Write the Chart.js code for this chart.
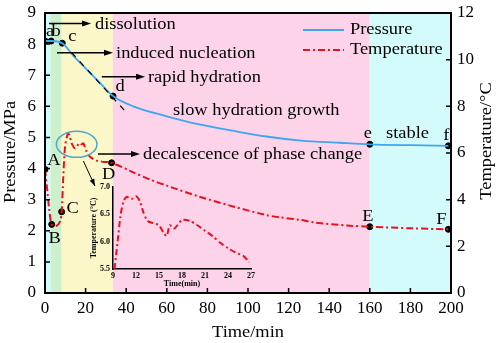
<!DOCTYPE html>
<html lang="en">
<head>
  <meta charset="UTF-8" />
  <title>Pressure and temperature during hydrate formation</title>
  <script src="https://cdn.jsdelivr.net/npm/chart.js"></script>
  <style>
    body { margin: 0; background: #fff; }
    #wrap { position: relative; width: 498px; height: 343px; }
    #mainChart { position: absolute; left: 0; top: 0; }
    #insetChart { position: absolute; left: 78px; top: 178px; }
  </style>
</head>
<body>
  <div id="wrap">
    <canvas id="mainChart" width="498" height="343"></canvas>
    <canvas id="insetChart" width="180" height="114"></canvas>
  </div>

  <script>
    // pressure curve (MPa) vs time (min)
    const pressureTime = [0, 3, 8.5, 14, 20.5, 27, 33.5, 43.5, 60, 76, 93, 109, 126, 145, 160, 180, 198.7];
    const pressure = [8.1, 8.1, 8.03, 7.62, 7.19, 6.76, 6.33, 6.0, 5.68, 5.42, 5.21, 5.03, 4.9, 4.83, 4.78, 4.75, 4.73];

    // temperature curve (°C) vs time (min)
    const tempTime = [0, 1, 2, 3.3, 5.5, 7.4, 8.2, 9, 9.9, 11.2, 12, 13.1, 14.8, 16.9, 18.1, 18.9, 20.5, 22.2, 25.4, 27.9,
                      32.8, 43.5, 52, 60, 76, 93, 109, 116, 126, 132, 149, 160, 181, 198.7];
    const temperature = [5.3, 4.5, 3.65, 2.94, 2.87, 3.06, 3.48, 4.98, 6.27, 6.82, 6.78, 6.42, 6.2, 6.42, 6.37, 6.41, 6.06, 5.84, 5.67, 5.63,
                         5.58, 5.17, 4.85, 4.6, 4.13, 3.7, 3.34, 3.24, 3.13, 3.03, 2.89, 2.84, 2.77, 2.73];

    // inset: temperature 9-27 min
    const insetTime = [9.2, 9.6, 10.0, 10.4, 10.8, 11.4, 12.0, 12.5, 13.0, 13.5, 14.2, 15.0, 15.6, 16.0, 16.4, 17.0, 18.0, 19.0,
                       20.0, 21.0, 22.0, 23.0, 24.0, 25.0, 26.0, 26.8];
    const insetTemp = [5.5, 6.0, 6.5, 6.75, 6.82, 6.78, 6.83, 6.74, 6.52, 6.38, 6.34, 6.3, 6.16, 6.1, 6.3, 6.24, 6.4, 6.38,
                       6.3, 6.2, 6.1, 5.98, 5.88, 5.8, 5.74, 5.62];

    // marked points
    const pressureKeys = ['a', 'b', 'c', 'd', 'e', 'f'];
    const pressureKeyTime = [0, 3, 8.5, 33.5, 160, 198.7];
    const pressureKeyValue = [8.1, 8.1, 8.03, 6.33, 4.78, 4.73];
    const tempKeys = ['A', 'B', 'C', 'D', 'E', 'F'];
    const tempKeyTime = [0, 3.3, 8.2, 32.8, 160, 198.7];
    const tempKeyValue = [5.3, 2.94, 3.48, 5.58, 2.84, 2.73];

    // stage boundaries (min)
    const phaseBounds = [0, 2.7, 8.2, 33.4, 160, 200];

    const phaseColors = ['#d3fbfb', '#cdf0cc', '#fbf7c8', '#fdd3ea', '#d3fbfb'];
    const SERIF = '"Liberation Serif", "Times New Roman", serif';
    const SX = 1.15; // the original text is a bit wide

    const pts = (xs, ys) => xs.map((x, i) => ({ x: x, y: ys[i] }));

    function wideText(ctx, str, x, y, size, align) {
      ctx.save();
      ctx.font = size + 'px ' + SERIF;
      ctx.textBaseline = 'middle';
      ctx.translate(x, y);
      ctx.scale(SX, 1);
      const w = ctx.measureText(str).width;
      let dx = 0;
      if (align === 'center') dx = -w / 2;
      if (align === 'right') dx = -w;
      ctx.fillStyle = '#000';
      ctx.fillText(str, dx, 0);
      ctx.restore();
    }

    function arrow(ctx, x0, y0, x1, y1) {
      const a = Math.atan2(y1 - y0, x1 - x0);
      ctx.save();
      ctx.strokeStyle = '#000';
      ctx.fillStyle = '#000';
      ctx.lineWidth = 1.5;
      ctx.beginPath();
      ctx.moveTo(x0, y0);
      ctx.lineTo(x1 - 6 * Math.cos(a), y1 - 6 * Math.sin(a));
      ctx.stroke();
      ctx.beginPath();
      ctx.moveTo(x1, y1);
      ctx.lineTo(x1 - 9 * Math.cos(a) + 3 * Math.sin(a), y1 - 9 * Math.sin(a) - 3 * Math.cos(a));
      ctx.lineTo(x1 - 9 * Math.cos(a) - 3 * Math.sin(a), y1 - 9 * Math.sin(a) + 3 * Math.cos(a));
      ctx.closePath();
      ctx.fill();
      ctx.restore();
    }

    const decor = {
      id: 'decor',
      beforeDatasetsDraw(chart) {
        const { ctx, chartArea: ca, scales } = chart;
        ctx.save();
        for (let i = 0; i < phaseBounds.length - 1; i++) {
          const x0 = scales.x.getPixelForValue(phaseBounds[i]);
          const x1 = scales.x.getPixelForValue(phaseBounds[i + 1]);
          ctx.fillStyle = phaseColors[i];
          ctx.fillRect(x0, ca.top, x1 - x0, ca.bottom - ca.top);
        }
        ctx.restore();
      },
      afterDatasetsDraw(chart) {
        const { ctx, chartArea: ca, scales } = chart;
        const X = v => scales.x.getPixelForValue(v);
        const Y = v => scales.y.getPixelForValue(v);
        const Y1 = v => scales.y1.getPixelForValue(v);

        ctx.save();
        // tangent at the rapid hydration stage
        ctx.strokeStyle = '#000';
        ctx.lineWidth = 1.2;
        ctx.setLineDash([6, 6]);
        ctx.beginPath();
        ctx.moveTo(X(13.1), Y(7.73));
        ctx.lineTo(X(39.4), Y(5.85));
        ctx.stroke();
        ctx.setLineDash([]);

        // frame and inward ticks
        ctx.lineWidth = 2;
        ctx.strokeRect(ca.left, ca.top, ca.right - ca.left, ca.bottom - ca.top);
        ctx.lineWidth = 1.5;
        ctx.beginPath();
        scales.x.ticks.forEach(t => { const x = X(t.value); ctx.moveTo(x, ca.bottom); ctx.lineTo(x, ca.bottom - 5); });
        scales.y.ticks.forEach(t => { const y = Y(t.value); ctx.moveTo(ca.left, y); ctx.lineTo(ca.left + 5, y); });
        scales.y1.ticks.forEach(t => { const y = Y1(t.value); ctx.moveTo(ca.right, y); ctx.lineTo(ca.right - 5, y); });
        ctx.stroke();

        // stage annotations
        arrow(ctx, X(2), Y(8.66), X(22.7), Y(8.66));
        wideText(ctx, 'dissolution', X(24.6), Y(8.62), 16, 'left');
        arrow(ctx, X(5.9), Y(7.72), X(33.5), Y(7.72));
        wideText(ctx, 'induced nucleation', X(35), Y(7.7), 16, 'left');
        arrow(ctx, X(28), Y(6.95), X(49.3), Y(6.95));
        wideText(ctx, 'rapid hydration', X(50.7), Y(6.93), 16, 'left');
        wideText(ctx, 'slow hydration growth', X(63), Y(5.85), 16, 'left');
        arrow(ctx, X(26.1), Y(4.47), X(46.8), Y(4.47));
        wideText(ctx, 'decalescence of phase change', X(48.3), Y(4.45), 16, 'left');
        wideText(ctx, 'stable', X(168), Y(5.11), 16, 'left');

        // ellipse round the temperature peak and arrow to the inset
        ctx.strokeStyle = '#4ea6c8';
        ctx.lineWidth = 1.5;
        ctx.beginPath();
        ctx.ellipse(X(15.6), Y(4.78), X(10) - X(0), Y(0) - Y(0.42), 0, 0, Math.PI * 2);
        ctx.stroke();
        ctx.strokeStyle = '#000';
        ctx.lineWidth = 1;
        ctx.beginPath();
        ctx.moveTo(X(18.9), Y(4.24));
        ctx.lineTo(X(24.6), Y(3.44));
        ctx.stroke();
        const a = Math.atan2(Y(3.44) - Y(4.24), X(24.6) - X(18.9));
        const ex = X(24.6), ey = Y(3.44);
        ctx.fillStyle = '#000';
        ctx.beginPath();
        ctx.moveTo(ex, ey);
        ctx.lineTo(ex - 7 * Math.cos(a) + 2.5 * Math.sin(a), ey - 7 * Math.sin(a) - 2.5 * Math.cos(a));
        ctx.lineTo(ex - 7 * Math.cos(a) - 2.5 * Math.sin(a), ey - 7 * Math.sin(a) + 2.5 * Math.cos(a));
        ctx.closePath();
        ctx.fill();

        // point letters
        const pOff = [[5, -9], [5, -9], [10, -6], [7, -9], [-2, -10], [-2, -10]];
        pressureKeys.forEach((k, i) => {
          wideText(ctx, k, X(pressureKeyTime[i]) + pOff[i][0], Y(pressureKeyValue[i]) + pOff[i][1], 16, 'center');
        });
        const tOff = [[9, -9], [3, 14], [11, -3], [-3, 12], [-2, -10], [-7, -10]];
        tempKeys.forEach((k, i) => {
          wideText(ctx, k, X(tempKeyTime[i]) + tOff[i][0], Y1(tempKeyValue[i]) + tOff[i][1], 16, 'center');
        });

        // legend
        ctx.lineWidth = 1.8;
        ctx.strokeStyle = '#3ea6ee';
        ctx.beginPath();
        ctx.moveTo(303, 30); ctx.lineTo(344, 30);
        ctx.stroke();
        ctx.strokeStyle = '#e8101c';
        ctx.setLineDash([7, 3, 2, 3]);
        ctx.beginPath();
        ctx.moveTo(303, 50); ctx.lineTo(344, 50);
        ctx.stroke();
        ctx.setLineDash([]);
        wideText(ctx, 'Pressure', 350, 30, 16, 'left');
        wideText(ctx, 'Temperature', 350, 50, 16, 'left');

        // axis titles
        ctx.save();
        ctx.translate(11, 152);
        ctx.rotate(-Math.PI / 2);
        wideText(ctx, 'Pressure/MPa', 0, 0, 16, 'center');
        ctx.restore();
        ctx.save();
        ctx.translate(487, 141);
        ctx.rotate(-Math.PI / 2);
        wideText(ctx, 'Temperature/\u00B0C', 0, 0, 16, 'center');
        ctx.restore();
        wideText(ctx, 'Time/min', (ca.left + ca.right) / 2, 333, 16, 'center');
        ctx.restore();
      }
    };

    const tickFont = { family: SERIF, size: 17 };
    const fitV = w => s => { s.width = w; s.paddingTop = 0; s.paddingBottom = 0; };
    const fitH = h => s => { s.height = h; s.paddingLeft = 0; s.paddingRight = 0; };

    new Chart(document.getElementById('mainChart'), {
      type: 'scatter',
      data: {
        datasets: [
          {
            label: 'Pressure',
            data: pts(pressureTime, pressure),
            yAxisID: 'y',
            showLine: true,
            borderColor: '#3ea6ee',
            borderWidth: 1.8,
            pointRadius: 0,
            cubicInterpolationMode: 'monotone'
          },
          {
            label: 'Temperature',
            data: pts(tempTime, temperature),
            yAxisID: 'y1',
            showLine: true,
            borderColor: '#e8101c',
            borderWidth: 2,
            borderDash: [7, 3, 2, 3],
            pointRadius: 0,
            tension: 0.3
          },
          {
            label: 'pressure points',
            data: pts(pressureKeyTime, pressureKeyValue),
            yAxisID: 'y',
            backgroundColor: '#000',
            borderColor: '#000',
            pointRadius: 3
          },
          {
            label: 'temperature points',
            data: pts(tempKeyTime, tempKeyValue),
            yAxisID: 'y1',
            backgroundColor: '#000',
            borderColor: '#000',
            pointRadius: 3
          }
        ]
      },
      options: {
        responsive: false,
        animation: false,
        devicePixelRatio: 1,
        layout: { padding: { top: 13 } },
        plugins: { legend: { display: false }, tooltip: { enabled: false } },
        scales: {
          x: {
            type: 'linear', min: 0, max: 200,
            grid: { display: false, drawTicks: false },
            border: { display: false },
            ticks: { stepSize: 20, font: tickFont, color: '#000', padding: 5 },
            afterFit: fitH(50)
          },
          y: {
            position: 'left', min: 0, max: 9,
            grid: { display: false, drawTicks: false },
            border: { display: false },
            ticks: { stepSize: 1, font: tickFont, color: '#000', padding: 9 },
            afterFit: fitV(45)
          },
          y1: {
            position: 'right', min: 0, max: 12,
            grid: { display: false, drawTicks: false },
            border: { display: false },
            ticks: { stepSize: 2, font: tickFont, color: '#000', padding: 6 },
            afterFit: fitV(47)
          }
        }
      },
      plugins: [decor]
    });

    const insetTitles = {
      id: 'insetTitles',
      afterDraw(chart) {
        const { ctx, chartArea: ca } = chart;
        ctx.save();
        ctx.fillStyle = '#000';
        ctx.font = 'bold 8px ' + SERIF;
        ctx.textAlign = 'center';
        ctx.textBaseline = 'middle';
        ctx.fillText('Time(min)', (ca.left + ca.right) / 2, 106);
        ctx.translate(16, (ca.top + ca.bottom) / 2);
        ctx.rotate(-Math.PI / 2);
        ctx.fillText('Temperature (\u00B0C)', 0, 0);
        ctx.restore();
      }
    };

    const insetFont = { family: SERIF, size: 8, weight: 'bold' };

    new Chart(document.getElementById('insetChart'), {
      type: 'scatter',
      data: {
        datasets: [{
          label: 'Temperature',
          data: pts(insetTime, insetTemp),
          showLine: true,
          borderColor: '#e8101c',
          borderWidth: 2,
          borderDash: [6, 3, 2, 3],
          pointRadius: 0,
          tension: 0.2
        }]
      },
      options: {
        responsive: false,
        animation: false,
        devicePixelRatio: 1,
        layout: { padding: { top: 9, right: 7 } },
        plugins: { legend: { display: false }, tooltip: { enabled: false } },
        scales: {
          x: {
            type: 'linear', min: 9, max: 27,
            grid: { display: false, drawTicks: false },
            border: { display: true, color: '#000', width: 1.5 },
            ticks: { stepSize: 3, font: insetFont, color: '#000', padding: 2 },
            afterFit: fitH(23)
          },
          y: {
            min: 5.5, max: 7.0,
            grid: { display: false, drawTicks: false },
            border: { display: true, color: '#000', width: 1.5 },
            ticks: { stepSize: 0.5, font: insetFont, color: '#000', padding: 3,
                     callback: v => v.toFixed(1) },
            afterFit: fitV(35)
          }
        }
      },
      plugins: [insetTitles]
    });
  </script>
</body>
</html>
